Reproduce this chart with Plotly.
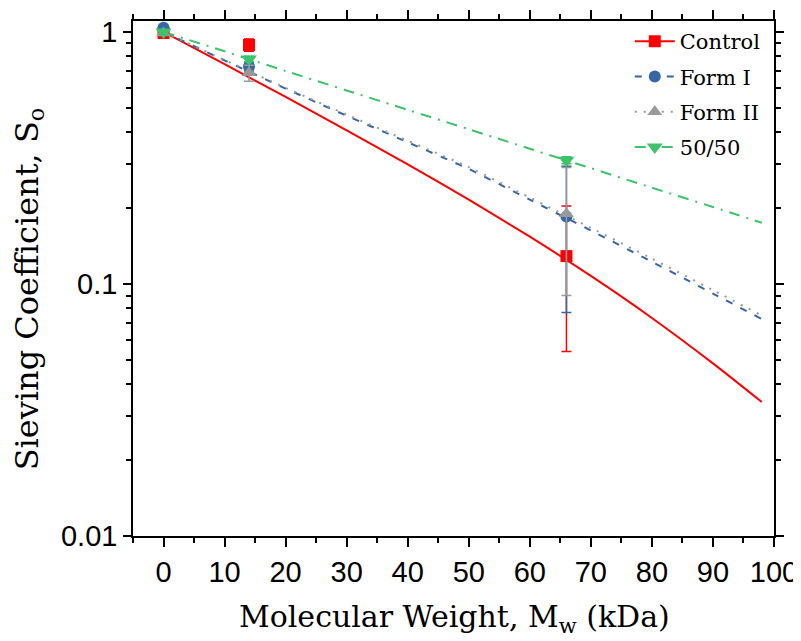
import plotly.graph_objects as go

# ---- data ----
mw_points = [0, 14, 66]

control_y = [0.99, 0.888, 0.129]
control_err = [0.02, 0.05, 0.075]
form1_y = [1.04, 0.73, 0.185]
form1_err = [0.02, 0.03, 0.108]
form2_y = [0.99, 0.688, 0.19]
form2_err = [0.02, 0.05, 0.10]
mix_y = [1.0, 0.781, 0.31]
mix_err = [0.02, 0.02, 0.01]

fit_x = [0, 10, 20, 30, 40, 50, 60, 70, 80, 90, 98]
control_fit = [1.0, 0.745, 0.552, 0.407, 0.2985, 0.216, 0.154, 0.1076, 0.0733, 0.0484, 0.034]
form1_fit = [1.0, 0.771, 0.596, 0.465, 0.365, 0.286, 0.216, 0.163, 0.1225, 0.0916, 0.0726]
form2_fit = [1.0, 0.774, 0.600, 0.470, 0.370, 0.291, 0.220, 0.167, 0.126, 0.0945, 0.0750]
mix_fit = [1.0, 0.838, 0.700, 0.586, 0.491, 0.411, 0.344, 0.288, 0.241, 0.202, 0.175]

names = ["Control", "Form I", "Form II", "50/50"]
colors = ["#FF0000", "#3567A6", "#999999", "#3CC36B"]
symbols = ["square", "circle", "triangle-up", "triangle-down"]
dashes = ["solid", "7px,9px", "2px,7px", "11px,7px,2px,7px"]
msizes = [12, 12, 13, 14]

ys = [control_y, form1_y, form2_y, mix_y]
errs = [control_err, form1_err, form2_err, mix_err]
fits = [control_fit, form1_fit, form2_fit, mix_fit]

fig = go.Figure()

# fit lines
for i in range(4):
    fig.add_trace(go.Scatter(
        x=fit_x, y=fits[i], mode="lines",
        line=dict(color=colors[i], width=2, dash=dashes[i], shape="spline", smoothing=0.6),
        showlegend=False, hoverinfo="skip"))

# data markers with error bars
for i in range(4):
    fig.add_trace(go.Scatter(
        x=mw_points, y=ys[i], mode="markers",
        marker=dict(symbol=symbols[i], size=msizes[i], color=colors[i]),
        error_y=dict(type="data", array=errs[i], color=colors[i], thickness=1.5, width=5),
        showlegend=False))

# legend entries
for i in range(4):
    fig.add_trace(go.Scatter(
        x=[None], y=[None], mode="lines+markers", name=names[i], legendgroup=names[i],
        line=dict(color=colors[i], width=2, dash=dashes[i]),
        marker=dict(symbol=symbols[i], size=msizes[i], color=colors[i])))

serif = "DejaVu Serif, Liberation Serif, serif"
sans = "Liberation Sans Narrow, Liberation Sans, Arial, sans-serif"

axis_common = dict(
    showline=True, linecolor="black", linewidth=1.5, mirror="ticks",
    ticks="outside", tickcolor="black", tickwidth=1.5,
    showgrid=False, zeroline=False, automargin=False,
    tickfont=dict(family=sans, size=29, color="black"),
)

fig.update_xaxes(
    **axis_common,
    range=[-5, 100], tickvals=list(range(0, 101, 10)), ticklen=9,
    minor=dict(dtick=5, tick0=0, ticks="outside", ticklen=5, tickcolor="black", tickwidth=1.5),
)
fig.update_yaxes(
    **axis_common,
    type="log", range=[-2, 0.0434], tickvals=[0.01, 0.1, 1], ticktext=["0.01", "0.1", "1"],
    ticklen=8,
    minor=dict(dtick="D1", ticks="outside", ticklen=5, tickcolor="black", tickwidth=1.5),
)

fig.add_annotation(
    text="Molecular Weight, M<sub>w</sub> (kDa)", xref="paper", yref="paper",
    x=0.502, y=-0.16, xanchor="center", yanchor="middle", showarrow=False,
    font=dict(family=serif, size=30, color="black"))
fig.add_annotation(
    text="Sieving Coefficient, S<sub>o</sub>", xref="paper", yref="paper",
    x=-0.163, y=0.48, xanchor="center", yanchor="middle", showarrow=False, textangle=-90,
    font=dict(family=serif, size=32, color="black"))

# page body has an 8px margin, so the figure is sized/offset to compensate
fig.update_layout(
    width=793, height=633,
    margin=dict(l=125, r=27, t=13, b=105),
    paper_bgcolor="white", plot_bgcolor="white",
    legend=dict(x=0.775, y=1.0, xanchor="left", yanchor="top",
                font=dict(family=serif, size=21, color="black"),
                bgcolor="rgba(0,0,0,0)", tracegroupgap=5, itemwidth=40),
)

fig.write_html("out.html")
